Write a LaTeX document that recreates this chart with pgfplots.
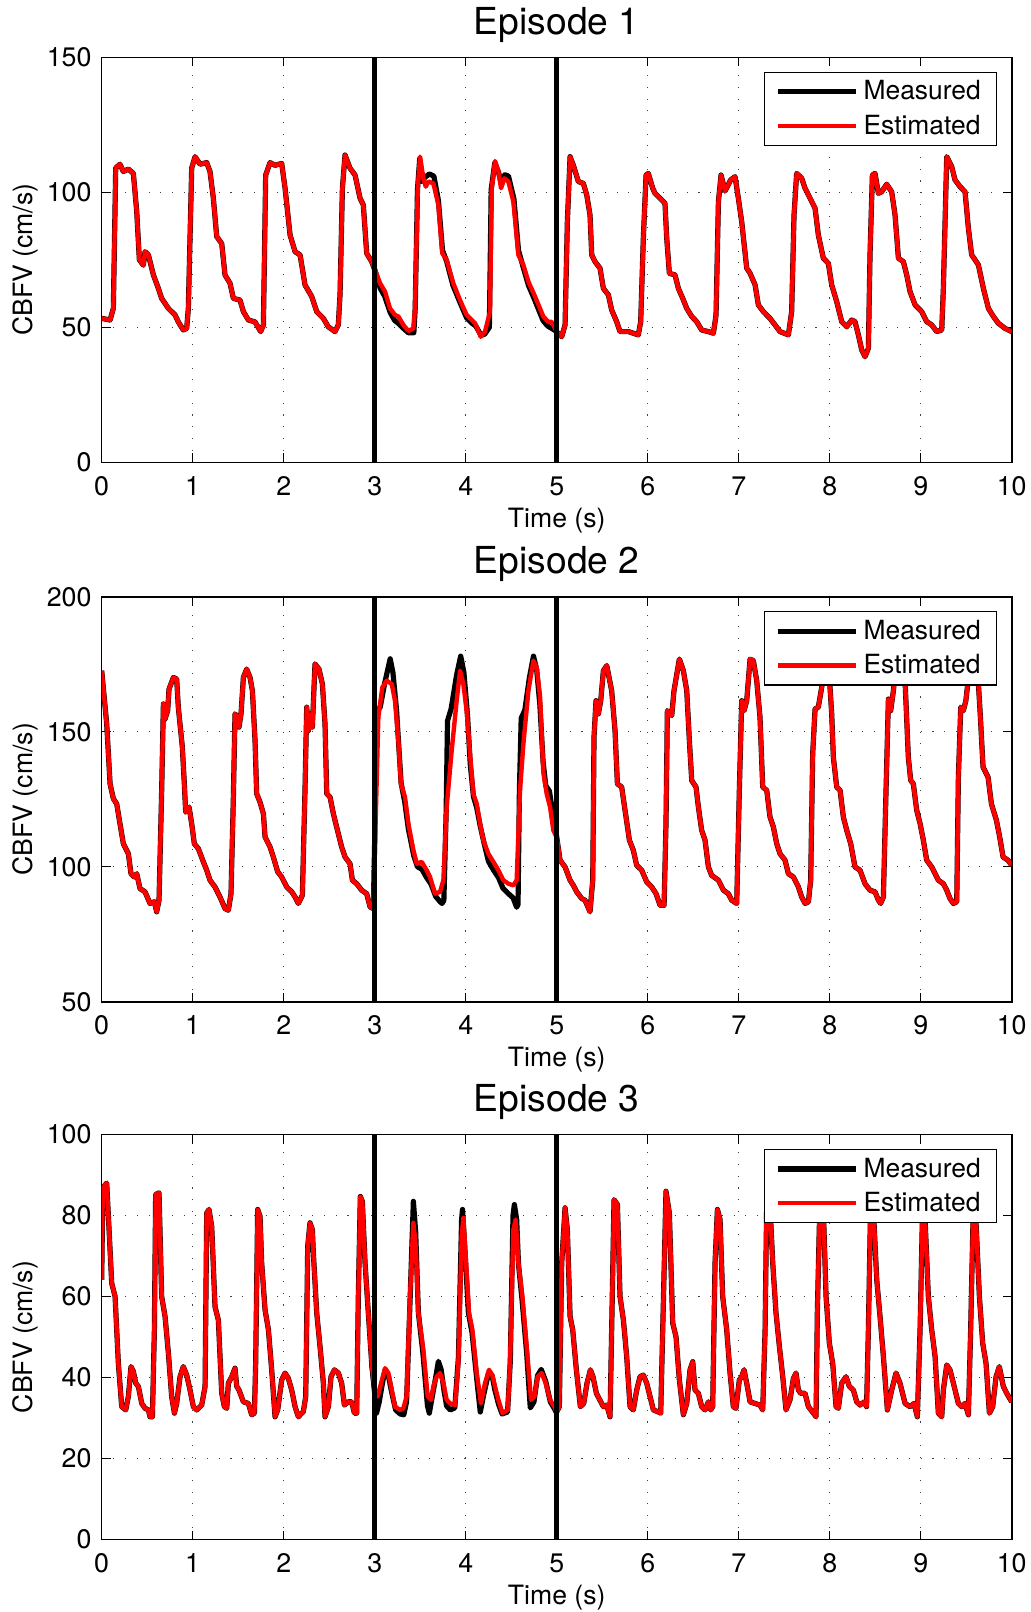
\documentclass[border=0pt]{standalone}
\usepackage{fontspec}
\setmainfont{TeX Gyre Heros}
\usepackage{pgfplots}
\usepackage{pgfplotstable}
\pgfplotsset{compat=1.18}

\pgfplotstableread{
t v
0 53.3
0.092 52.7
0.128 57
0.154 109
0.2 110.4
0.238 107.7
0.293 108.6
0.348 107
0.385 92.8
0.414 75
0.458 73
0.476 78
0.513 76.8
0.568 69.4
0.623 64.4
0.659 60.7
0.733 57
0.806 54.6
0.842 52
0.897 49
0.934 49.6
0.952 57
0.989 109
1.026 113.2
1.081 110.4
1.154 111
1.19 107.7
1.227 97.8
1.264 83.6
1.319 81
1.355 69.4
1.41 66.3
1.447 60.7
1.52 60.1
1.557 55.8
1.612 52.7
1.685 52
1.747 48.4
1.777 50.9
1.802 106.4
1.85 111
1.905 110
1.978 110.7
2.015 101.5
2.07 84.2
2.125 78
2.18 76.8
2.234 65.7
2.308 61.4
2.363 55.8
2.436 53.3
2.49 50.2
2.564 48.4
2.6 50.9
2.619 62
2.645 101.5
2.674 113.8
2.729 108.9
2.784 106.4
2.839 97.8
2.875 95.3
2.912 77.4
2.967 74.3
3.004 71.2
3.059 66.3
3.114 63.2
3.168 57
3.223 54.6
3.26 54
3.315 50.9
3.37 48.6
3.425 49.6
3.443 57
3.473 101.5
3.498 113.2
3.535 105.2
3.561 102.1
3.59 104
3.645 103.3
3.7 95.3
3.743 77.4
3.79 75
3.864 66.3
3.937 60.1
4.01 54.6
4.066 52.7
4.103 51.5
4.165 46.5
4.212 48.4
4.267 55.8
4.286 101.5
4.322 111.6
4.359 107.7
4.388 101.5
4.425 105.2
4.469 104
4.524 96.5
4.579 76.8
4.634 73
4.689 66.9
4.762 61.4
4.853 54
4.908 52
4.945 52
5.0 48.4
5.055 46.5
5.092 50.9
5.117 89
5.147 113.2
5.183 110
5.238 104
5.293 103.3
5.33 99
5.366 91.6
5.385 76.8
5.421 74.3
5.476 71.9
5.513 64.4
5.568 62
5.604 56.4
5.659 52.1
5.696 48.4
5.788 48.4
5.897 47.2
5.923 52.1
5.952 83
5.982 106.4
6.007 107
6.055 101.5
6.081 99.6
6.136 97.8
6.19 95.9
6.209 83
6.238 70
6.3 69.4
6.337 64.4
6.385 60.7
6.429 57
6.484 54
6.538 52.1
6.593 49
6.667 48.4
6.722 47.8
6.751 54.6
6.777 96.5
6.806 106.4
6.85 100.5
6.875 102.1
6.912 104.6
6.96 105.8
6.996 97.8
7.033 89.1
7.088 71.9
7.125 70
7.18 65.7
7.216 58.3
7.271 55.8
7.344 53.3
7.399 50.9
7.454 48.4
7.546 47.2
7.582 55.8
7.608 91.6
7.637 107
7.692 105.2
7.729 101.5
7.784 97.8
7.839 94.1
7.875 84.2
7.93 75.6
7.985 73.7
8.022 65.7
8.077 59.5
8.132 52.1
8.187 50.2
8.242 52.7
8.278 52.1
8.315 47.2
8.352 41.6
8.388 39.1
8.425 42.2
8.443 76.8
8.469 106.4
8.498 107
8.535 99.6
8.571 100.2
8.626 103
8.681 100.2
8.718 91.6
8.755 75.6
8.81 74.3
8.846 69.4
8.883 63.2
8.938 58.3
9.011 55.8
9.066 52.1
9.121 50.9
9.176 48.4
9.231 49
9.249 64.4
9.286 113.2
9.341 109.5
9.377 104.6
9.432 102.1
9.487 100.2
9.524 86.7
9.56 76.8
9.597 75
9.634 73.1
9.689 64.4
9.744 57
9.799 54
9.853 51.5
9.927 49.6
10.0 48.4
}\estA

\pgfplotstableread{
t v
2.967 74.3
3.004 71
3.06 64.5
3.11 61.5
3.17 55.5
3.22 52.5
3.26 51.5
3.32 49.5
3.37 48
3.43 48
3.445 57
3.47 101
3.495 112.5
3.52 104
3.55 105.5
3.6 106.8
3.65 106
3.7 97
3.745 78.5
3.79 74.5
3.86 65.5
3.94 59
4.01 53.5
4.07 51.5
4.11 50.5
4.17 47
4.21 47.5
4.26 50
4.28 101
4.32 111
4.36 107.5
4.39 103.5
4.43 106.5
4.47 106
4.53 97.5
4.58 78.5
4.63 72.5
4.69 65.5
4.76 60
4.85 52.5
4.9 50.5
4.95 49.5
5.0 48.4
}\meaA

\pgfplotstableread{
t v
0 172.6
0.055 152.9
0.092 130.7
0.128 125.2
0.165 123.3
0.201 115.9
0.238 108.5
0.293 104.8
0.322 97.4
0.359 96.2
0.385 97.4
0.421 91.9
0.476 90.7
0.531 86.4
0.579 87
0.604 83.3
0.63 87.6
0.659 128.2
0.678 160.3
0.696 154.7
0.725 157.8
0.74 165.8
0.788 170.1
0.824 169.5
0.842 159.1
0.886 144.3
0.908 130.7
0.923 120.2
0.96 122.1
0.989 115.9
1.018 108.5
1.062 106.7
1.117 101.8
1.154 98.7
1.19 95
1.245 92.5
1.3 88.8
1.355 84.5
1.392 83.9
1.421 90
1.447 125.8
1.465 156.6
1.495 155.4
1.509 151.7
1.531 156.6
1.557 170.1
1.593 173.2
1.63 170.1
1.656 165.2
1.685 146.7
1.703 127
1.74 123.9
1.777 119.6
1.795 111
1.85 107.3
1.886 103.6
1.934 98.1
1.978 96.2
2.033 92.5
2.088 90.7
2.125 88.8
2.161 86.4
2.205 89.4
2.234 128.3
2.253 159.1
2.271 150.4
2.3 156.6
2.315 151.7
2.344 175.1
2.388 173.2
2.425 167.7
2.454 152.9
2.473 127
2.509 125.8
2.546 119.6
2.582 114.7
2.637 107.3
2.674 103.6
2.729 101.1
2.755 95
2.802 93.7
2.857 91.3
2.912 90
2.949 85.1
2.985 84.5
3.005 110
3.04 155.4
3.084 166.4
3.132 168.9
3.187 167.7
3.223 161.5
3.26 146.7
3.289 130.7
3.333 125.8
3.37 115.9
3.425 106.1
3.462 101.1
3.516 101.8
3.571 98.7
3.608 96.2
3.663 90
3.718 90.7
3.755 95
3.791 122.1
3.846 143
3.901 161.5
3.938 172.6
3.974 167.7
4.011 157.8
4.048 141.7
4.084 127
4.121 123.3
4.158 115.9
4.194 109.8
4.249 104.8
4.304 101.8
4.359 98.7
4.414 95
4.469 93.7
4.524 93.1
4.56 95
4.597 128.3
4.634 145.5
4.689 165.2
4.744 176.3
4.78 173.8
4.817 163
4.853 135
4.89 127
4.927 122.1
4.963 113.5
5.0 111
5.037 102.4
5.092 99.9
5.147 95
5.183 93.1
5.22 90.7
5.275 88.2
5.311 87.6
5.366 83.3
5.396 95
5.41 148
5.432 161.5
5.458 156.6
5.484 161.5
5.513 172.6
5.55 174.5
5.604 165.2
5.641 150.4
5.667 130.7
5.714 129.5
5.751 120.9
5.799 109.8
5.842 106.1
5.879 100.5
5.934 98.7
5.989 94.4
6.044 92.5
6.092 90
6.136 85.7
6.18 85.7
6.201 115.9
6.216 157.8
6.264 156
6.289 165.2
6.348 176.9
6.392 172.6
6.429 165.2
6.458 146.7
6.484 131.9
6.531 129.5
6.557 122.1
6.593 113.5
6.63 109.8
6.667 99.9
6.703 96.8
6.777 95
6.832 91.3
6.886 90
6.923 87.6
6.978 86.4
7.007 128.3
7.033 161.5
7.059 157.8
7.088 161.5
7.125 176.9
7.161 176.3
7.198 168.9
7.234 155.4
7.264 129.5
7.308 128.3
7.344 118.4
7.381 114.7
7.418 108.5
7.454 104.8
7.509 102.4
7.546 97.4
7.601 96.2
7.656 92.5
7.692 88.8
7.729 86.4
7.766 87
7.791 95
7.813 141.8
7.839 158.4
7.875 159.1
7.912 166.4
7.949 177.5
7.985 176
8.022 156.6
8.04 140.6
8.077 129.5
8.114 128.3
8.15 118.4
8.187 113.5
8.231 108.5
8.278 99.9
8.333 98.7
8.388 93.7
8.443 91.3
8.498 90.7
8.535 87.6
8.56 86.4
8.59 88.8
8.619 128.3
8.645 162.1
8.67 157.8
8.7 165.2
8.736 177.5
8.791 176.3
8.828 168.9
8.864 140.6
8.89 132
8.919 130.7
8.956 120.9
8.993 116
9.029 109.8
9.066 102.4
9.121 99.9
9.158 97.4
9.194 95
9.249 93.7
9.286 91.3
9.322 88.2
9.359 86.4
9.396 87
9.414 133.2
9.44 159.1
9.469 157.8
9.496 161.5
9.542 175.1
9.597 177.5
9.63 170.1
9.656 155.4
9.685 136.9
9.74 133.2
9.777 123.3
9.832 117.2
9.868 111
9.905 103.6
9.96 102.4
10.0 100.5
}\estB

\pgfplotstableread{
t v
2.985 84.5
3.0 110
3.01 150
3.02 157.8
3.06 159
3.11 168
3.17 177
3.2 172
3.24 158
3.29 131
3.33 124
3.37 114
3.43 104
3.47 100
3.52 99
3.57 96
3.62 93.5
3.67 89
3.72 87
3.74 86.4
3.76 87.5
3.785 120
3.8 154
3.84 158.5
3.9 171
3.945 178
3.98 172
4.02 156
4.05 138
4.085 126
4.12 122
4.16 115
4.2 109
4.25 102
4.31 98.5
4.36 96
4.41 92
4.47 90
4.52 88.5
4.56 85
4.575 86
4.59 128
4.61 155
4.65 158
4.7 170
4.745 178
4.78 173
4.815 160
4.85 139
4.88 130
4.92 128
4.96 119
5.0 111
}\meaB

\pgfplotstableread{
t v
0 64.1
0.012 86.8
0.055 88
0.081 76.5
0.11 63.3
0.147 60
0.183 43.5
0.22 32.8
0.264 32
0.293 35.3
0.322 42.7
0.348 41.5
0.374 38.6
0.403 37.8
0.44 33.6
0.476 32.4
0.513 32
0.531 30.3
0.557 30.3
0.579 51.8
0.593 85.2
0.63 85.6
0.659 60
0.696 55.1
0.733 46
0.769 35.3
0.799 31.2
0.824 33.6
0.861 40.2
0.897 42.7
0.934 40.6
0.971 36.9
1.007 32.8
1.044 32
1.099 33.2
1.136 37.8
1.154 80.6
1.179 81.5
1.209 77.3
1.245 57.5
1.282 54.2
1.319 36.1
1.348 32.8
1.374 32.4
1.392 38.6
1.429 40.2
1.465 42.3
1.484 37.8
1.509 36.9
1.557 34
1.612 33.6
1.648 30.8
1.678 31.2
1.692 43.5
1.714 81.5
1.74 79.8
1.758 68.3
1.795 56.7
1.832 51.8
1.868 41.9
1.905 30.3
1.934 32
1.978 39.4
2.015 41.1
2.051 39.8
2.088 36.9
2.125 32.8
2.161 30.3
2.216 31.6
2.242 35.3
2.264 72.4
2.289 78.2
2.315 76.5
2.326 70.7
2.363 55.9
2.399 47.7
2.436 38.6
2.454 30.3
2.491 32.8
2.52 40.2
2.557 41.9
2.601 41.1
2.637 38.6
2.667 33.2
2.711 34
2.747 34
2.777 31.2
2.802 31.2
2.82 60
2.842 84.7
2.864 83.5
2.894 68.3
2.93 55.9
2.967 43.5
3.0 37
3.033 35.3
3.07 38.6
3.114 42.3
3.15 41.1
3.187 36.9
3.223 32.8
3.278 32
3.315 32.4
3.35 35.3
3.388 60
3.425 78.2
3.451 72.4
3.48 55.9
3.535 46.8
3.582 35.3
3.619 34.5
3.645 37.8
3.681 40.2
3.718 41.1
3.755 38.6
3.791 34.5
3.828 33.6
3.883 33.2
3.919 43.5
3.956 74.9
3.974 79.4
4.0 69.9
4.037 55.9
4.073 51.8
4.121 41.1
4.168 33.6
4.212 38.6
4.256 41.9
4.293 40.6
4.322 37.8
4.359 34.5
4.403 31.2
4.462 32
4.487 43.5
4.524 76.5
4.549 79
4.579 68.3
4.623 60
4.67 47.7
4.718 34.5
4.755 35.3
4.791 40.2
4.835 41.1
4.879 38.6
4.927 34.5
4.974 32.8
5.0 31.5
5.029 32.8
5.055 68.3
5.092 81.9
5.117 76.5
5.147 55.1
5.176 51.8
5.216 41.9
5.26 32.8
5.297 33.6
5.333 38.6
5.37 41.9
5.399 40.2
5.436 36.1
5.473 34.5
5.513 32.8
5.55 33.2
5.586 30.3
5.604 51.8
5.63 83.9
5.667 82.7
5.696 60
5.733 54.2
5.769 45.2
5.806 32.8
5.842 32
5.879 36.9
5.916 40.2
5.952 40.6
5.989 38.6
6.026 35.3
6.062 32
6.106 31.6
6.143 31.2
6.165 51.8
6.201 86
6.238 80.6
6.275 53.4
6.311 50.1
6.348 39.4
6.392 30.8
6.429 33.6
6.465 41.9
6.495 43.9
6.52 36.9
6.557 36.1
6.593 32.8
6.63 32
6.667 34
6.692 32
6.714 32.8
6.74 68.3
6.766 81.5
6.795 79
6.824 60
6.868 51.8
6.905 41.1
6.941 32.8
6.97 32.4
7.007 39.4
7.033 40.2
7.059 41.9
7.088 38.6
7.125 34
7.179 33.6
7.234 33.2
7.264 32
7.29 51.8
7.308 83.5
7.344 82.3
7.374 68.3
7.41 55.9
7.447 47.7
7.484 40.2
7.52 32
7.564 34.5
7.601 39.8
7.63 41.1
7.656 36.9
7.681 36.1
7.729 36.1
7.766 32.8
7.821 31.2
7.85 30.3
7.864 55.9
7.894 85
7.93 81.5
7.96 60
7.996 48.5
8.033 43.5
8.07 32.8
8.095 32.4
8.132 38.6
8.179 40.2
8.216 37.8
8.26 36.9
8.297 34
8.333 33.2
8.381 34
8.405 32.8
8.425 51.8
8.451 84
8.48 81.5
8.517 64.1
8.553 55.1
8.59 45.2
8.634 32
8.681 36.9
8.729 41.1
8.773 38.6
8.828 33.6
8.883 32.8
8.927 33.6
8.963 30.3
8.993 51.8
9.022 83
9.048 79
9.084 60
9.121 51.8
9.158 45.2
9.194 31.2
9.231 30.3
9.249 36.9
9.286 43.1
9.322 41.9
9.359 38.6
9.414 33.6
9.451 32.8
9.487 33.6
9.524 30.8
9.549 51.8
9.579 83
9.608 78.2
9.645 60
9.681 48.5
9.718 43.5
9.755 31.2
9.791 32.8
9.828 40.2
9.864 42.7
9.908 37.8
9.945 36.1
10.0 34
}\estC

\pgfplotstableread{
t v
2.967 43.5
3.0 36
3.02 31.2
3.05 34
3.08 38
3.115 42
3.15 40.5
3.19 36
3.23 32
3.28 31
3.32 30.8
3.35 34
3.39 60
3.425 83.5
3.45 76
3.48 56
3.53 46
3.58 33
3.6 31.2
3.63 35
3.67 40
3.7 44
3.73 42
3.76 37
3.79 33
3.83 32
3.88 32.5
3.92 45
3.955 79
3.965 81.5
3.99 72
4.03 56
4.07 51
4.12 40
4.16 31.5
4.2 36
4.25 41
4.29 40.5
4.32 37
4.36 33.5
4.4 31
4.46 31.5
4.49 44
4.52 80
4.535 82.7
4.56 79
4.58 68
4.62 59
4.67 46
4.71 32.5
4.75 34
4.79 40.5
4.83 42
4.88 39
4.93 34
4.97 32.5
5.0 31.2
}\meaC

\newcommand\tickfont{\fontsize{13.4}{16}\selectfont}
\newcommand\labfont{\fontsize{13.3}{16}\selectfont}
\newcommand\legfont{\fontsize{13.2}{16}\selectfont}

\pgfplotsset{
  ep/.style={
    scale only axis,
    width=455pt, height=202.5pt,
    xmin=0, xmax=10,
    xtick={0,1,...,10},
    tick align=inside,
    major tick length=4.5pt,
    tick style={black, line width=0.5pt},
    axis line style={black, line width=0.8pt},
    grid=major,
    major grid style={black!75, line width=0.55pt, dash pattern=on 0.55pt off 5.3pt},
    /pgf/number format/assume math mode=true,
    ticklabel style={font=\tickfont},
    xticklabel style={anchor=base, yshift=-16.4pt},
    yticklabel style={anchor=east, inner sep=0pt, xshift=-4.9pt},
    xlabel={Time (s)},
    ylabel={CBFV (cm/s)},
    every axis x label/.style={at={(axis description cs:0.5,0)}, anchor=base, yshift=-32.4pt, font=\labfont},
    every axis y label/.style={at={(axis description cs:0,0.5)}, rotate=90, anchor=center, yshift=38.3pt, font=\labfont},
    every axis title/.style={at={(axis description cs:0.5,1)}, anchor=base, yshift=11.5pt, font=\fontsize{18.6}{22}\selectfont},
    legend style={at={(1,1)}, anchor=north east, xshift=-7.2pt, yshift=-7.2pt,
      draw=black, line width=0.6pt, fill=white, font=\legfont,
      inner xsep=5.5pt, inner ysep=1.7pt, row sep=1pt,
      nodes={inner sep=2.5pt},
      legend cell align=left},
    legend image code/.code={\draw[#1] (0pt,0pt) -- (39pt,0pt);},
    meas/.style={black, line width=2.6pt, line join=round},
    est/.style={red, line width=2.2pt, line join=round},
    vline/.style={black, line width=2.4pt, forget plot},
  }
}

\begin{document}
\begin{tikzpicture}
\path[use as bounding box] (0,0) rectangle (515.5pt,-806pt);

\begin{axis}[ep, at={(50.85pt,-231.15pt)}, anchor=south west,
  ymin=0, ymax=150, ytick={0,50,100,150}, title={Episode 1}]
\addplot[meas, restrict x to domain=0:3.0] table[x=t,y=v] {\estA};
\addlegendentry{Measured}
\addplot[meas, forget plot] table[x=t,y=v] {\meaA};
\addplot[meas, forget plot, restrict x to domain=5:10] table[x=t,y=v] {\estA};
\addplot[est] table[x=t,y=v] {\estA};
\addlegendentry{Estimated}
\addplot[vline] coordinates {(3,0) (3,150)};
\addplot[vline] coordinates {(5,0) (5,150)};
\end{axis}

\begin{axis}[ep, at={(50.85pt,-500.85pt)}, anchor=south west,
  ymin=50, ymax=200, ytick={50,100,150,200}, title={Episode 2}]
\addplot[meas, restrict x to domain=0:3.0] table[x=t,y=v] {\estB};
\addlegendentry{Measured}
\addplot[meas, forget plot] table[x=t,y=v] {\meaB};
\addplot[meas, forget plot, restrict x to domain=5:10] table[x=t,y=v] {\estB};
\addplot[est] table[x=t,y=v] {\estB};
\addlegendentry{Estimated}
\addplot[vline] coordinates {(3,50) (3,200)};
\addplot[vline] coordinates {(5,50) (5,200)};
\end{axis}

\begin{axis}[ep, at={(50.85pt,-769.75pt)}, anchor=south west,
  ymin=0, ymax=100, ytick={0,20,40,60,80,100}, title={Episode 3}]
\addplot[meas, restrict x to domain=0:3.0] table[x=t,y=v] {\estC};
\addlegendentry{Measured}
\addplot[meas, forget plot] table[x=t,y=v] {\meaC};
\addplot[meas, forget plot, restrict x to domain=5:10] table[x=t,y=v] {\estC};
\addplot[est] table[x=t,y=v] {\estC};
\addlegendentry{Estimated}
\addplot[vline] coordinates {(3,0) (3,100)};
\addplot[vline] coordinates {(5,0) (5,100)};
\end{axis}
\end{tikzpicture}
\end{document}
